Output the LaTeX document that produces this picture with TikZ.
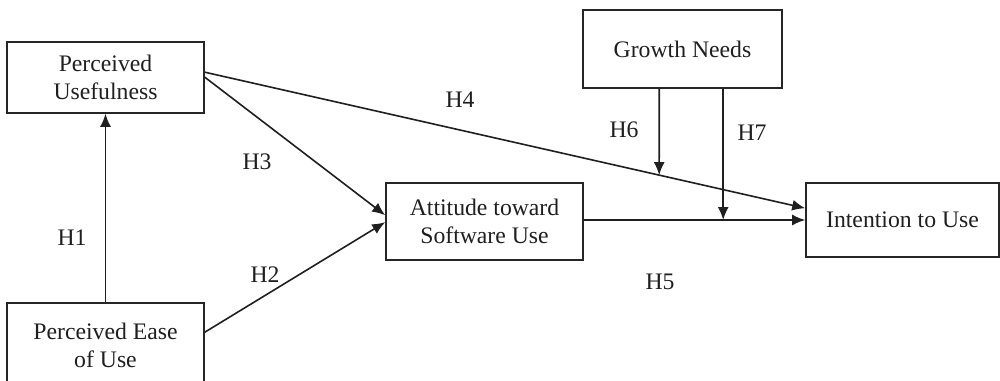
\documentclass[tikz,border=0pt]{standalone}
\usepackage{fontspec}
\setmainfont{Liberation Serif}
\usetikzlibrary{arrows.meta,intersections}
\begin{document}
\begin{tikzpicture}[x=1pt,y=-1pt,
  every node/.style={font=\fontsize{23.7}{28}\selectfont, text=black!88},
  box/.style={draw=black!85, line width=1.6pt, rectangle, inner sep=0pt, align=center},
  conn/.style={draw=black!88, line width=1.6pt, -{Latex[length=13pt,width=11pt]}},
  lbl/.style={inner sep=0pt}]
\useasboundingbox (0,0) rectangle (1000,380);
\node[box, minimum width=197pt, minimum height=71pt] (pu) at (105.5,77.5) {Perceived\\Usefulness};
\node[box, minimum width=197pt, minimum height=84pt] (peou) at (105.5,345) {Perceived Ease\\of Use};
\node[box, minimum width=199pt, minimum height=78pt] (gn) at (682.5,49) {Growth Needs};
\node[box, minimum width=197pt, minimum height=77pt] (att) at (484.5,221.5) {Attitude toward\\Software Use};
\node[box, minimum width=193pt, minimum height=74pt] (int) at (902.5,220) {Intention to Use};
% H1
\draw[conn] (peou.north) -- (pu.south);
% H2
\draw[conn] ([yshift=-30pt]peou.north east) -- ([yshift=-40pt]att.north west);
% H3
\draw[conn] ([yshift=-36pt]pu.north east) -- ([yshift=-33pt]att.north west);
% H4
\draw[conn, name path=h4] ([yshift=-31pt]pu.north east) -- ([yshift=-26pt]int.north west);
% H5
\draw[conn] ([yshift=1.5pt]att.east) -- ([yshift=1.5pt]att.east -| int.west);
% H6
\path[name path=v6] ([xshift=77pt]gn.south west) -- ++(0,200);
\path[name intersections={of=h4 and v6, by=h6end}];
\draw[conn] ([xshift=77pt]gn.south west) -- (h6end);
% H7
\coordinate (h7end) at ([xshift=141pt]gn.south west |- 0,220);
\draw[conn] ([xshift=141pt]gn.south west) -- (h7end);
% labels
\node[lbl] (l1) at (72,238) {H1};
\node[lbl] (l2) at (265,275) {H2};
\node[lbl] (l3) at (257,162) {H3};
\node[lbl] (l4) at (460,100) {H4};
\node[lbl] (l5) at (660,282) {H5};
\node[lbl] (l6) at (624,130) {H6};
\node[lbl] (l7) at (752,133) {H7};
\end{tikzpicture}
\end{document}
